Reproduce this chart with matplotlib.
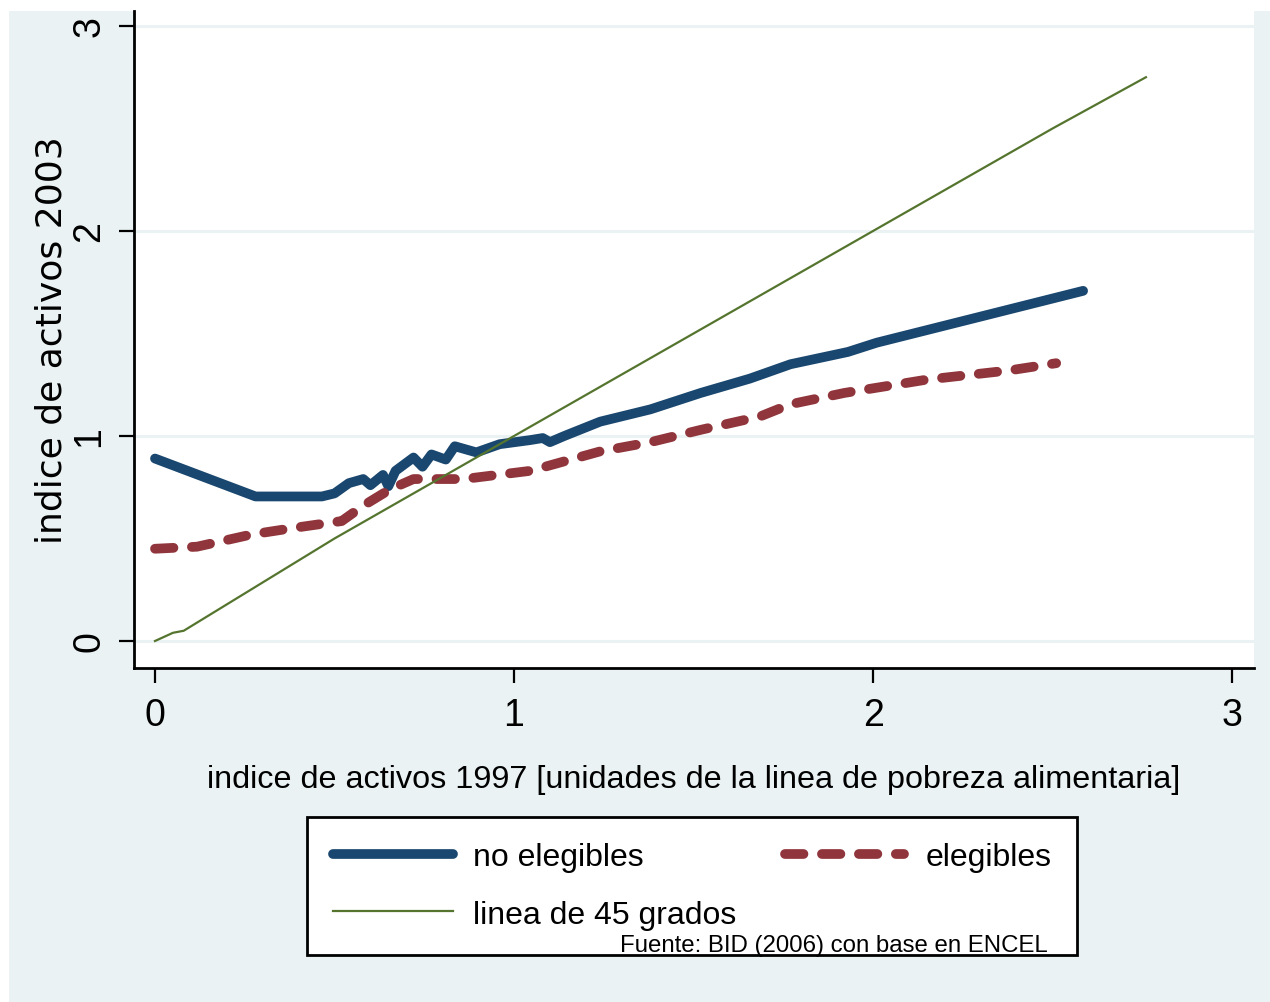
import matplotlib.pyplot as plt
from matplotlib.patches import Rectangle

## Stata-style chart: asset index 2003 vs 1997, eligible vs non-eligible households
plt.rcParams['font.family'] = ['Liberation Sans', 'DejaVu Sans']

# no elegibles (navy)
x_noeleg = [0, 0.28, 0.465, 0.50, 0.54, 0.58, 0.60, 0.635, 0.65, 0.67, 0.72, 0.745, 0.77, 0.81,
            0.835, 0.895, 0.96, 1.045, 1.08, 1.10, 1.14, 1.24, 1.38, 1.52, 1.657, 1.77, 1.93, 2.01, 2.585]
y_noeleg = [0.89, 0.705, 0.705, 0.72, 0.77, 0.79, 0.76, 0.81, 0.755, 0.83, 0.895, 0.85, 0.91, 0.885,
            0.95, 0.92, 0.96, 0.98, 0.99, 0.97, 1.0, 1.07, 1.13, 1.21, 1.28, 1.35, 1.41, 1.455, 1.708]
# elegibles (maroon, dashed)
x_eleg = [0, 0.117, 0.27, 0.40, 0.52, 0.58, 0.655, 0.72, 0.86, 1.045, 1.24, 1.38, 1.52,
          1.685, 1.77, 1.92, 2.15, 2.38, 2.51]
y_eleg = [0.45, 0.46, 0.52, 0.555, 0.585, 0.66, 0.74, 0.79, 0.79, 0.83, 0.925, 0.97, 1.03,
          1.095, 1.155, 1.21, 1.275, 1.32, 1.355]
# linea de 45 grados
x_45 = [0, 0.05, 0.08, 0.5, 1.0, 1.5, 2.0, 2.5, 2.76]
y_45 = [0, 0.04, 0.05, 0.5, 1.0, 1.5, 2.0, 2.5, 2.75]

navy = '#1A476F'
maroon = '#90353B'
green = '#55752F'
bg = '#EAF2F3'

fig = plt.figure(figsize=(12.7, 10.03), dpi=100)
fig.patches.append(Rectangle((9/1270, 0), 1 - 9/1270, 991/1003, transform=fig.transFigure,
                             facecolor=bg, edgecolor='none', zorder=-10))
ax = fig.add_axes([134/1270, 334/1003, 1120/1270, 657/1003])
ax.set_facecolor('white')

ax.plot(x_noeleg, y_noeleg, color=navy, lw=7, solid_capstyle='round', solid_joinstyle='round',
        label='no elegibles', zorder=3)
ax.plot(x_45, y_45, color=green, lw=1.6, label='linea de 45 grados', zorder=4)
ax.plot(x_eleg, y_eleg, color=maroon, lw=7, dashes=(1.9, 1.9), dash_capstyle='round',
        label='elegibles', zorder=3)

ax.set_xlim(-0.0585, 3.061)
ax.set_ylim(-0.1317, 3.073)
ax.set_xticks([0, 1, 2, 3])
ax.set_yticks([0, 1, 2, 3])
ax.yaxis.grid(True, color=bg, lw=2.2)
ax.set_axisbelow(True)
for s in ['top', 'right']:
    ax.spines[s].set_visible(False)
for s in ['left', 'bottom']:
    ax.spines[s].set_linewidth(2)
ax.tick_params(axis='both', length=11, width=1.6, labelsize=27, pad=8)
ax.tick_params(axis='x', pad=10)
ax.tick_params(axis='y', labelrotation=90)
for t in ax.get_yticklabels():
    t.set_va('center')

ax.set_xlabel('indice de activos 1997 [unidades de la linea de pobreza alimentaria]',
              fontsize=23.3, labelpad=22)
ax.set_ylabel('indice de activos 2003', fontsize=26, family=['DejaVu Sans'], labelpad=2)

h, l = ax.get_legend_handles_labels()
leg = ax.legend([h[0], h[1], h[2]], [l[0], l[1], l[2]], ncol=2, fontsize=23,
                loc='center', bbox_to_anchor=(692/1270, 1 - 887/1003), bbox_transform=fig.transFigure,
                fancybox=False, framealpha=1, edgecolor='black', handlelength=3.75,
                handletextpad=0.65, columnspacing=1.5, labelspacing=0.85, borderpad=0.8)
leg.get_frame().set_linewidth(2)
leg.set_zorder(5)

fig.text(834/1270, 1 - 946/1003, 'Fuente: BID (2006) con base en ENCEL', fontsize=17.3,
         ha='center', va='center', zorder=10)

fig.savefig('out.png', dpi=100)
